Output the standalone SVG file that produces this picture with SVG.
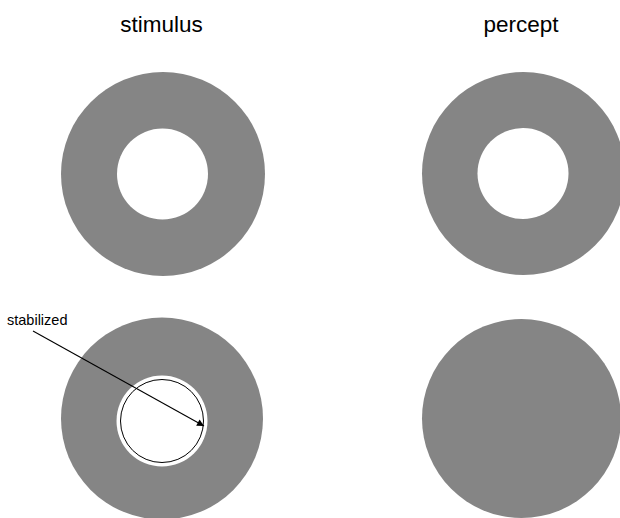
<svg xmlns="http://www.w3.org/2000/svg" width="620" height="518" viewBox="0 0 620 518">
<defs>
<marker id="arrow" viewBox="0 0 10 10" refX="10" refY="5" markerWidth="9" markerHeight="7" markerUnits="userSpaceOnUse" orient="auto">
<path d="M0,0 L10,5 L0,10 z" fill="#000"/>
</marker>
<style>
.title{font-family:"Liberation Sans",Arial,sans-serif;font-size:22.5px;fill:#000;text-anchor:middle}
.label{font-family:"Liberation Sans",Arial,sans-serif;font-size:14.5px;fill:#000}
.gray{fill:#858585}
.hole{fill:#fff}
</style>
</defs>
<rect width="620" height="518" fill="#fff"/>
<text class="title" x="161.5" y="32">stimulus</text>
<text class="title" x="521" y="32">percept</text>
<g id="stimulus-top">
<circle class="gray" cx="163" cy="174" r="102"/>
<circle class="hole" cx="162.5" cy="174" r="45.5"/>
</g>
<g id="percept-top">
<circle class="gray" cx="523.5" cy="173.5" r="101.5"/>
<circle class="hole" cx="523" cy="173.5" r="45.5"/>
</g>
<g id="stimulus-bottom">
<circle class="gray" cx="162" cy="418.5" r="101"/>
<circle class="hole" cx="162" cy="421" r="45.5"/>
<circle cx="162" cy="421" r="41.5" fill="none" stroke="#000" stroke-width="1"/>
</g>
<g id="percept-bottom">
<circle class="gray" cx="521.5" cy="418.5" r="99.5"/>
</g>
<g id="label">
<text class="label" x="7" y="325">stabilized</text>
</g>
<g id="connectors">
<line x1="33" y1="331" x2="204" y2="426" stroke="#000" stroke-width="1.1" marker-end="url(#arrow)"/>
</g>
</svg>
